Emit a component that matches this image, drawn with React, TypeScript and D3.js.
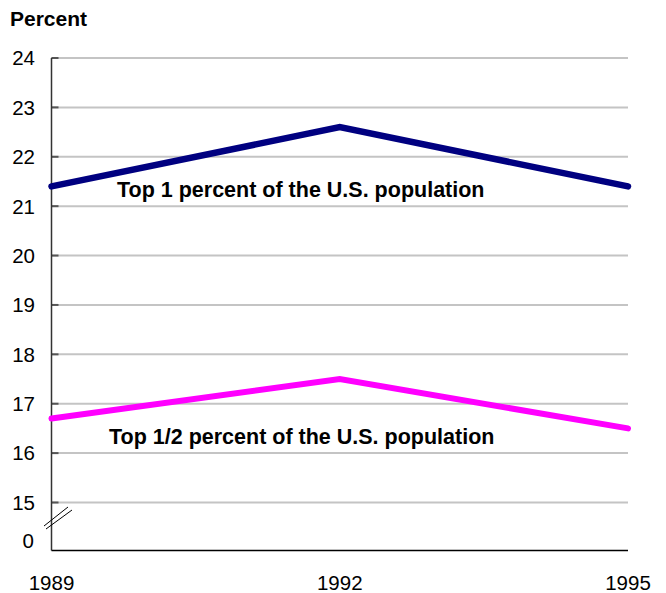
import React from "react";
import * as d3 from "d3";

const years = [1989, 1992, 1995];
const top1 = [21.4, 22.6, 21.4];
const topHalf = [16.7, 17.5, 16.5];
const yTicks = [15, 16, 17, 18, 19, 20, 21, 22, 23, 24];
const labelTop1 = "Top 1 percent of the U.S. population";
const labelTopHalf = "Top 1/2 percent of the U.S. population";

export default function App() {
  const W = 666, H = 593;
  const x = d3.scaleLinear().domain([1989, 1995]).range([51.5, 628]);
  const y = d3.scaleLinear().domain([15, 24]).range([502.5, 58]);
  const line = d3.line<number>().x((_, i) => x(years[i])).y((d) => y(d));
  const font = "'Liberation Sans', Arial, sans-serif";
  const axisBottom = 550.5;
  return (
    <svg width={W} height={H} style={{ position: "absolute", left: 0, top: 0 }} fontFamily={font}>
      <rect width={W} height={H} fill="#fff" />
      <text x={10} y={26} fontSize={21} fontWeight="bold" fill="#000">Percent</text>
      {yTicks.map((t) => (
        <g key={t}>
          <line x1={x(1989)} x2={x(1995)} y1={y(t)} y2={y(t)} stroke="#c4c4c4" strokeWidth={2} />
          <line x1={x(1989)} x2={x(1989) + 7} y1={y(t)} y2={y(t)} stroke="#555" strokeWidth={2} />
          <text x={35} y={y(t)} dy="0.36em" textAnchor="end" fontSize={20.5} fill="#000">{t}</text>
        </g>
      ))}
      <text x={34} y={541} dy="0.36em" textAnchor="end" fontSize={20.5} fill="#000">0</text>
      <line x1={x(1989)} x2={x(1989)} y1={y(24)} y2={axisBottom} stroke="#333" strokeWidth={1.5} />
      <line x1={x(1989)} x2={x(1995)} y1={axisBottom} y2={axisBottom} stroke="#000" strokeWidth={1.5} />
      <line x1={44} y1={526} x2={68} y2={507} stroke="#000" strokeWidth={1} />
      <line x1={46} y1={529} x2={72} y2={510} stroke="#000" strokeWidth={1} />
      {years.map((yr) => (
        <text key={yr} x={x(yr)} y={590} textAnchor="middle" fontSize={20.5} fill="#000">{yr}</text>
      ))}
      <path d={line(top1) || ""} fill="none" stroke="#000080" strokeWidth={6.5} strokeLinecap="round" strokeLinejoin="miter" />
      <path d={line(topHalf) || ""} fill="none" stroke="#ff00ff" strokeWidth={6} strokeLinecap="round" strokeLinejoin="miter" />
      <text x={117} y={197} fontSize={21.5} fontWeight="bold" fill="#000">{labelTop1}</text>
      <text x={109} y={444} fontSize={21.5} fontWeight="bold" fill="#000">{labelTopHalf}</text>
    </svg>
  );
}
